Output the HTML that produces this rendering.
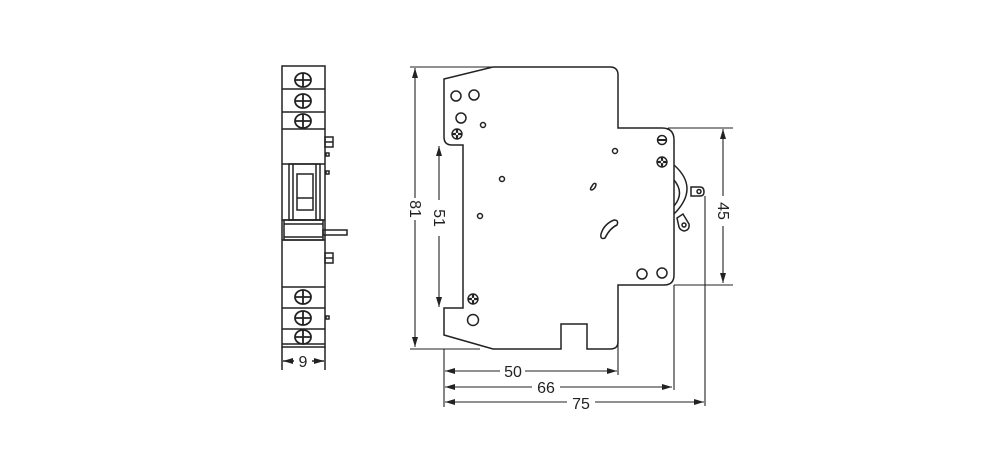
<!DOCTYPE html>
<html><head><meta charset="utf-8"><style>
html,body{margin:0;padding:0;background:#fff;}
svg{display:block;}
text{font-family:"Liberation Sans",sans-serif;font-size:16px;fill:#222;}
</style></head><body>
<svg width="1000" height="463" viewBox="0 0 1000 463" xmlns="http://www.w3.org/2000/svg">
<defs>
<marker id="a" markerWidth="10" markerHeight="6" refX="10" refY="3" orient="auto" markerUnits="userSpaceOnUse"><path d="M0,0 L10,3 L0,6 Z" fill="#222"/></marker>
<g id="scr"><ellipse rx="8" ry="7" fill="#fff" stroke="#222" stroke-width="1.8"/><path d="M-8,0H8M0,-7V7" stroke="#222" stroke-width="1.8"/></g>
<g id="cr"><circle r="5" fill="#fff" stroke="#222" stroke-width="1.4"/><path d="M-4.5,0H4.5M0,-4.5V4.5" stroke="#222" stroke-width="2.2"/><circle r="1.2" fill="#fff"/></g>
</defs>
<g fill="none" stroke="#222" stroke-width="1.5">
<rect x="282" y="66" width="43" height="281"/>
<path d="M282,89H325M282,112H325M282,129H325M282,164H325M282,220H325M282,240H325M282,287H325M282,308H325M282,329H325M282,344H325"/>
<rect x="289" y="164" width="31" height="56"/>
<rect x="297" y="174" width="16" height="36"/>
<path d="M297,198H313M293,164V220M316,164V220"/>
<rect x="284" y="220" width="39" height="20"/>
<path d="M284,224H323M284,237H323"/>
<rect x="323" y="230" width="24" height="5"/>
<rect x="325" y="137" width="8" height="10"/><path d="M325,142H333"/>
<rect x="326" y="153" width="3" height="3"/>
<rect x="326" y="171" width="3" height="3"/>
<rect x="325" y="253" width="8" height="10"/><path d="M325,258H333"/>
<rect x="326" y="316" width="3" height="3"/>
<path d="M282,347V370M325,347V370"/>
<line x1="294" y1="361" x2="283" y2="361" marker-end="url(#a)"/>
<line x1="312" y1="361" x2="324" y2="361" marker-end="url(#a)"/>
<path d="M444,79 L493,67 H610 Q618,67 618,75 V128 H662 Q674,128 674,140 V275 Q674,285 664,285 H618 V342 Q618,349 610,349 H587 V324 H561 V349 H493 L444,335 V308 H463 V145 H452 Q444,145 444,137 Z"/>
<path d="M674,165 Q700,188 674,214"/>
<path d="M674,180 Q685,193 674,206"/>
<path d="M691,187 H700 Q704,187 704,192 Q704,196 700,196 H691 Z"/>
<circle cx="699" cy="191.5" r="2"/>
<path d="M677,218 L683,214 L689,224 Q690,230 684,231 Q680,230 679,227 Z"/>
<circle cx="684" cy="225" r="2"/>
<circle cx="456" cy="96" r="5"/><circle cx="474" cy="95" r="5"/><circle cx="461" cy="118" r="5"/>
<circle cx="483" cy="125" r="2.5"/><circle cx="615" cy="151" r="2.5"/><circle cx="502" cy="179" r="2.5"/><circle cx="480" cy="216" r="2.5"/>
<circle cx="642" cy="274" r="5"/><circle cx="662" cy="273" r="5"/>
<circle cx="473" cy="320" r="5.5"/>
<path d="M592,186 Q594,182 596,184 Q596,188 592,190 Q589,190 592,186Z"/>
<path d="M601,234 Q604,224 614,220 Q619,220 617,225 Q610,228 605,238 Q600,240 601,234Z"/>
<circle cx="662" cy="140" r="4.5"/><path d="M657.5,140H666.5" stroke-width="2"/>
</g>
<use href="#scr" x="303" y="80"/><use href="#scr" x="303" y="101"/><use href="#scr" x="303" y="121"/>
<use href="#scr" x="303" y="297"/><use href="#scr" x="303" y="318"/><use href="#scr" x="303" y="337"/>
<use href="#cr" x="457" y="134"/><use href="#cr" x="662" y="162"/><use href="#cr" x="473" y="299"/>
<g stroke="#222" stroke-width="1.1" fill="none">
<path d="M410,67H493M410,349H480M733,128H668M733,285H674"/>
<path d="M444,349V407M618,342V375M674,285V390M705,196V406"/>
<line x1="415" y1="198" x2="415" y2="68" marker-end="url(#a)"/>
<line x1="415" y1="220" x2="415" y2="347" marker-end="url(#a)"/>
<line x1="439" y1="200" x2="439" y2="146" marker-end="url(#a)"/>
<line x1="439" y1="236" x2="439" y2="307" marker-end="url(#a)"/>
<line x1="723" y1="196" x2="723" y2="129" marker-end="url(#a)"/>
<line x1="723" y1="226" x2="723" y2="283" marker-end="url(#a)"/>
<line x1="500" y1="371" x2="445" y2="371" marker-end="url(#a)"/>
<line x1="525" y1="371" x2="617" y2="371" marker-end="url(#a)"/>
<line x1="532" y1="387" x2="445" y2="387" marker-end="url(#a)"/>
<line x1="560" y1="387" x2="672" y2="387" marker-end="url(#a)"/>
<line x1="567" y1="402" x2="445" y2="402" marker-end="url(#a)"/>
<line x1="595" y1="402" x2="704" y2="402" marker-end="url(#a)"/>
</g>
<text x="303" y="367" text-anchor="middle">9</text>
<text x="513" y="377" text-anchor="middle">50</text>
<text x="546" y="393" text-anchor="middle">66</text>
<text x="581" y="409" text-anchor="middle">75</text>
<text transform="translate(410,209) rotate(90)" text-anchor="middle">81</text>
<text transform="translate(434,218) rotate(90)" text-anchor="middle">51</text>
<text transform="translate(718,211) rotate(90)" text-anchor="middle">45</text>
</svg>
</body></html>
